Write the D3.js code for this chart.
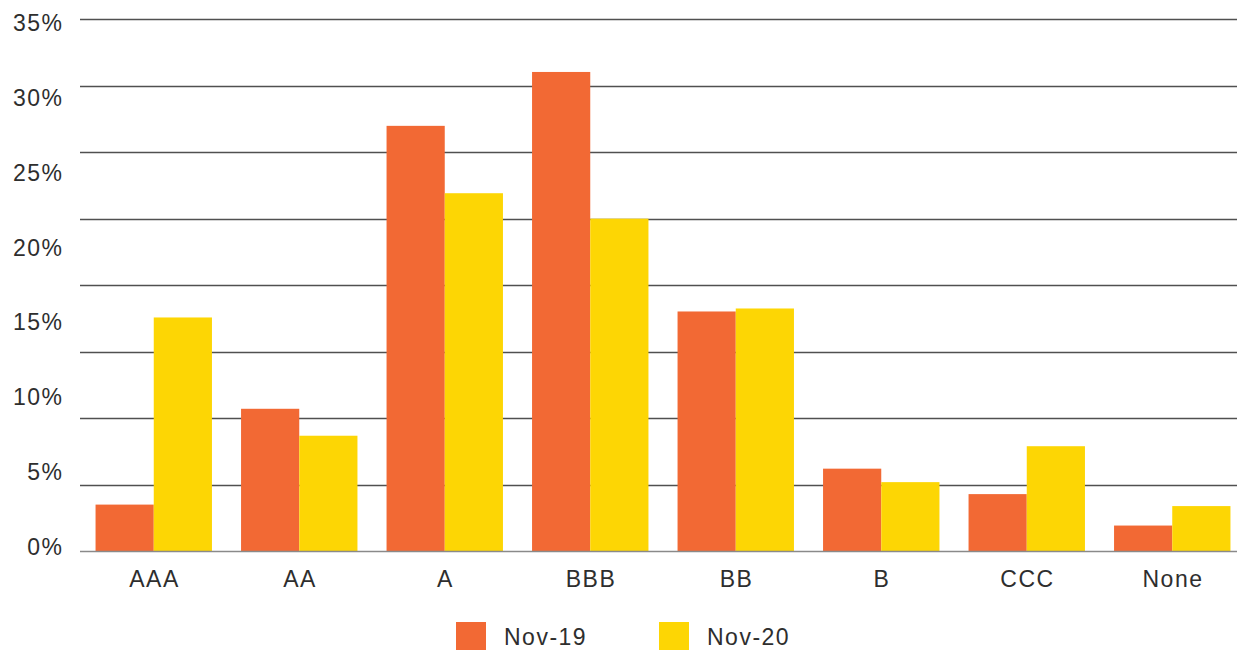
<!DOCTYPE html>
<html>
<head>
<meta charset="utf-8">
<script src="https://cdn.jsdelivr.net/npm/d3@7"></script>
<style>
  body { margin: 0; background: #fff; }
  svg text { font-family: "Liberation Sans", Arial, sans-serif; fill: #2e2e2e; }
</style>
</head>
<body>
<svg id="chart" width="1237" height="650"></svg>
<script>
const categories = ["AAA", "AA", "A", "BBB", "BB", "B", "CCC", "None"];
const seriesNames = ["Nov-19", "Nov-20"];
const nov19 = [3.1, 9.5, 28.4, 32.0, 16.0, 5.5, 3.8, 1.7];
const nov20 = [15.6, 7.7, 23.9, 22.2, 16.2, 4.6, 7.0, 3.0];
const yTicks = [0, 5, 10, 15, 20, 25, 30, 35];

const colors = { "Nov-19": "#F26934", "Nov-20": "#FDD604" };

const svg = d3.select("#chart");
const left = 80, right = 1245, bottom = 551;

const x = d3.scaleBand()
  .domain(categories)
  .range([left + 1, right])
  .paddingInner(0.2)
  .paddingOuter(0.1);

const xSub = d3.scaleBand()
  .domain(seriesNames)
  .range([0, x.bandwidth()]);

const y = d3.scaleLinear()
  .domain([0, 35])
  .range([bottom, bottom - 35 * 14.97]);

// gridlines: 8 even steps from the top line to the baseline
const grid = d3.scaleLinear().domain([0, 8]).range([bottom, 19]);
svg.append("g")
  .selectAll("line")
  .data(d3.range(1, 9))
  .join("line")
    .attr("x1", left)
    .attr("x2", 1237)
    .attr("y1", d => Math.round(grid(d)) + 0.5)
    .attr("y2", d => Math.round(grid(d)) + 0.5)
    .attr("stroke", "#505050")
    .attr("stroke-width", 1.3);

// y labels (letter-spacing adds a trailing gap, so nudge right)
svg.append("g")
  .selectAll("text")
  .data(yTicks)
  .join("text")
    .attr("x", 63.5)
    .attr("y", d => y(d) + 4)
    .attr("text-anchor", "end")
    .style("font-size", "23px")
    .style("letter-spacing", "1.5px")
    .text(d => d + "%");

// bars
const rows = categories.map((c, i) => ({ cat: c, values: [
  { key: "Nov-19", value: nov19[i] },
  { key: "Nov-20", value: nov20[i] }
]}));

svg.append("g")
  .selectAll("g")
  .data(rows)
  .join("g")
    .attr("transform", d => `translate(${x(d.cat)},0)`)
  .selectAll("rect")
  .data(d => d.values)
  .join("rect")
    .attr("x", d => xSub(d.key))
    .attr("width", xSub.bandwidth())
    .attr("y", d => y(d.value))
    .attr("height", d => y(0) - y(d.value))
    .attr("fill", d => colors[d.key]);

// baseline
svg.append("line")
  .attr("x1", left)
  .attr("x2", 1237)
  .attr("y1", bottom + 0.5)
  .attr("y2", bottom + 0.5)
  .attr("stroke", "#8a8a8a")
  .attr("stroke-width", 1.5);

// x labels
svg.append("g")
  .selectAll("text")
  .data(categories)
  .join("text")
    .attr("x", d => x(d) + x.bandwidth() / 2 + 0.75)
    .attr("y", 587)
    .attr("text-anchor", "middle")
    .style("font-size", "23px")
    .style("letter-spacing", "1.5px")
    .text(d => d);

// legend
const legendX = [456, 659];
const legend = svg.append("g")
  .selectAll("g")
  .data(seriesNames)
  .join("g")
    .attr("transform", (d, i) => `translate(${legendX[i]},622)`);

legend.append("rect")
  .attr("width", 30)
  .attr("height", 28)
  .attr("fill", d => colors[d]);

legend.append("text")
  .attr("x", 48)
  .attr("y", 23)
  .style("font-size", "23px")
  .style("letter-spacing", "1.5px")
  .text(d => d);
</script>
</body>
</html>
